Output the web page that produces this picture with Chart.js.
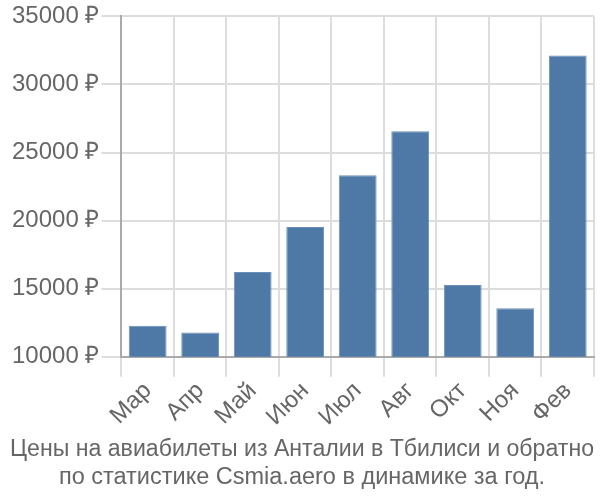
<!DOCTYPE html>
<html><head><meta charset="utf-8">
<script src="https://cdn.jsdelivr.net/npm/chart.js@4.4.1/dist/chart.umd.min.js"></script>
<style>html,body{margin:0;padding:0;background:#fff}#w{width:600px;height:500px}</style>
</head><body><div id="w"><canvas id="c"></canvas></div>
<script>
const categories = ["Мар","Апр","Май","Июн","Июл","Авг","Окт","Ноя","Фев"];
const prices = [12270, 11780, 16230, 19530, 23340, 26570, 15280, 13570, 32120];
const titleLines = ["Цены на авиабилеты из Анталии в Тбилиси и обратно","по статистике Csmia.aero в динамике за год."];
const yMin = 10000, yMax = 35000, yStep = 5000;

Chart.defaults.font.family = "'Liberation Sans', Arial, sans-serif";
Chart.defaults.color = "#666";
new Chart(document.getElementById('c'), {
  type: 'bar',
  data: { labels: categories, datasets: [{ data: prices, backgroundColor: '#4e79a7', borderColor: '#6a8fb8', borderWidth: 1 }] },
  options: {
    responsive: true, maintainAspectRatio: false, animation: false,
    layout: { padding: { left: 10, right: 6, top: 4, bottom: 2 } },
    plugins: {
      legend: { display: false },
      tooltip: { enabled: false },
      title: { display: true, position: 'bottom', text: titleLines, font: { size: 23.5, weight: 'normal', lineHeight: 1.2 }, color: '#666', padding: { top: 4, bottom: 6 } }
    },
    scales: {
      x: {
        grid: { offset: true, color: '#ddd', lineWidth: 2, tickLength: 20 },
        border: { color: '#aaa', width: 2 },
        ticks: { font: { size: 24 }, color: '#666', maxRotation: 45, minRotation: 45, padding: 0 }
      },
      y: {
        min: yMin, max: yMax,
        grid: { color: '#ddd', lineWidth: 2, tickLength: 20 },
        border: { color: '#aaa', width: 2 },
        ticks: { stepSize: yStep, font: { size: 24 }, color: '#666', padding: 2, callback: v => v + ' ₽' }
      }
    }
  }
});
</script></body></html>
